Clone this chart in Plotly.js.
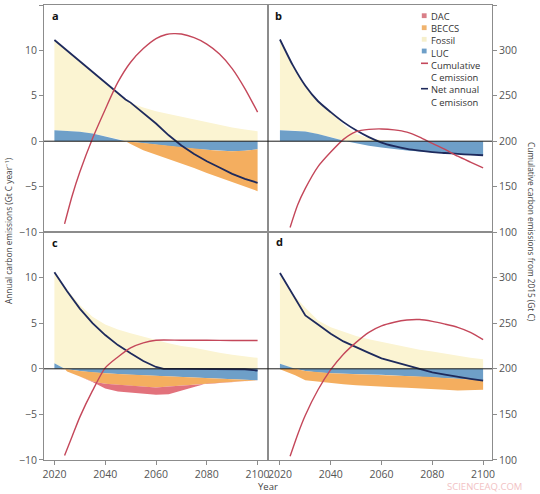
<!DOCTYPE html>
<html><head><meta charset="utf-8">
<script src="https://cdn.plot.ly/plotly-3.0.1.min.js"></script>
<style>html,body{margin:0;padding:0;background:#fff}</style>
</head><body><div id="chart" style="width:540px;height:494px"></div>
<script>
// ---------- Panel a ----------
const yearsA   = [2020,2025,2030,2035,2040,2045,2048,2050,2055,2060,2065,2070,2075,2080,2085,2090,2095,2100];
const fossilA  = [9.9,8.83,7.75,6.75,5.85,5.0,4.6,4.2,3.7,3.3,3.0,2.7,2.35,2.05,1.75,1.5,1.3,1.1];
const lucA     = [1.2,1.15,1.05,0.85,0.55,0.25,0,-0.05,-0.2,-0.35,-0.55,-0.7,-0.85,-0.95,-1.05,-1.1,-1.05,-0.9];
const beccsA   = [0,0,0,0,0,0,0,-0.25,-0.8,-1.15,-1.45,-1.75,-2.1,-2.55,-3.0,-3.45,-3.95,-4.6];
const netYearsA = [2020,2025,2030,2035,2040,2045,2048,2050,2055,2060,2065,2070,2075,2080,2085,2090,2095,2100];
const netA     = [11.15,9.98,8.8,7.6,6.4,5.25,4.6,4.25,3.15,1.95,0.65,-0.48,-1.4,-2.2,-2.9,-3.6,-4.15,-4.58];
const cumYearsA = [2024,2027,2030,2035,2040,2045,2050,2055,2060,2064,2067,2070,2075,2080,2085,2090,2095,2100];
const cumA     = [109,140,166,203,235,265,287,302,313,317.5,318.5,318,314,307,296,280,258,232];

// ---------- Panel b ----------
const yearsB   = [2020,2025,2030,2035,2040,2046,2050,2055,2060,2065,2070,2075,2080,2085,2090,2095,2100];
const fossilB  = [10.0,7.22,5.02,3.6,2.75,1.6,0.8,0.35,0.12,0.04,0,0,0,0,0,0,0];
const lucB     = [1.2,1.18,1.08,0.8,0.45,0,-0.2,-0.5,-0.7,-0.88,-1.02,-1.13,-1.23,-1.32,-1.4,-1.48,-1.55];
const netYearsB = [2020,2025,2030,2035,2040,2045,2050,2055,2060,2065,2070,2075,2080,2085,2090,2095,2100];
const netB     = [11.2,8.4,6.1,4.4,3.2,2.1,1.2,0.45,-0.15,-0.55,-0.85,-1.05,-1.2,-1.3,-1.4,-1.48,-1.55];
const cumYearsB = [2024,2027,2030,2035,2040,2045,2050,2055,2060,2065,2070,2075,2080,2085,2090,2095,2100];
const cumB     = [105,130,148,172,188,202,210.5,213,213.5,212.5,210,204.5,197.5,191,183.5,177,170.7];

// ---------- Panel c ----------
const yearsC   = [2020,2024,2025,2030,2035,2040,2045,2050,2055,2060,2065,2070,2075,2080,2085,2090,2095,2100];
const fossilC  = [9.9,8.95,8.7,7.0,5.7,4.85,4.3,3.9,3.5,3.15,2.8,2.5,2.3,2.0,1.75,1.55,1.35,1.2];
const lucC     = [0.6,0,-0.05,-0.25,-0.4,-0.5,-0.58,-0.65,-0.72,-0.8,-0.87,-0.95,-1.0,-1.05,-1.1,-1.15,-1.2,-1.25];
const beccsC   = [0,0,-0.25,-0.6,-1.0,-1.15,-1.17,-1.2,-1.2,-1.25,-1.08,-0.9,-0.74,-0.57,-0.42,-0.27,-0.13,-0.02];
const dacC     = [0,0,0,0,-0.05,-0.5,-0.75,-0.75,-0.8,-0.8,-0.85,-0.55,-0.26,0,0,0,0,0];
const netYearsC = [2020,2025,2030,2035,2040,2045,2050,2055,2060,2063,2070,2080,2090,2095,2100];
const netC     = [10.6,8.5,6.6,5.0,3.7,2.6,1.7,0.85,0.2,0,0,0,0,-0.05,-0.2];
const cumYearsC = [2024,2027,2030,2035,2040,2045,2050,2055,2060,2070,2080,2090,2100];
const cumC     = [105,126,147,176,201,213,223,228.5,231.3,231.3,231.3,231,231];

// ---------- Panel d ----------
const yearsD   = [2020,2025,2026,2030,2035,2040,2045,2050,2055,2060,2065,2070,2075,2080,2085,2090,2095,2100];
const fossilD  = [9.65,8.2,7.9,6.7,5.3,4.55,4.05,3.6,3.25,2.95,2.65,2.4,2.1,1.9,1.65,1.4,1.2,1.05];
const lucD     = [0.55,0.1,0,-0.25,-0.4,-0.48,-0.55,-0.6,-0.63,-0.66,-0.7,-0.76,-0.82,-0.9,-1.0,-1.08,-1.17,-1.25];
const beccsD   = [-0.05,-0.6,-0.72,-1.0,-1.0,-1.07,-1.15,-1.2,-1.27,-1.31,-1.32,-1.31,-1.3,-1.3,-1.3,-1.3,-1.18,-1.05];
const netYearsD = [2020,2025,2030,2035,2040,2045,2050,2055,2060,2065,2070,2074,2080,2085,2090,2095,2100];
const netD     = [10.5,8.2,5.85,4.85,3.85,3.0,2.35,1.75,1.15,0.75,0.35,0,-0.4,-0.65,-0.9,-1.1,-1.3];
const cumYearsD = [2024,2027,2030,2035,2040,2045,2050,2055,2060,2065,2070,2075,2080,2085,2090,2095,2100];
const cumD     = [104,128,149,177,199,216,229,240,247,251,253.5,254,252,249,245.5,240,232];

// ---------- Axis ticks / labels ----------
const yearTicks = [2020,2040,2060,2080,2100];
const annualTicksTop = [-10,-5,0,5,10,15];
const annualTicksBottom = [-10,-5,0,5,10];
const cumTicksTop = [100,150,200,250,300,350];
const cumTicksBottom = [100,150,200,250,300];
const panelLetters = ['a','b','c','d'];
const legendLabels = ['DAC','BECCS','Fossil','LUC','Cumulative','C emission','Net annual','C emisison'];

const COL = {dac:'#e2727c', beccs:'#f4ae5f', fossil:'#fbf4d2', luc:'#6e9fc8', cum:'#c4475a', net:'#1e2a5c'};
const FONT = 'Open Sans, Liberation Sans, sans-serif';

function band(years, upper, lower, color, xa, ya){
  return {x: years.concat(years.slice().reverse()), y: upper.concat(lower.slice().reverse()),
    type:'scatter', mode:'lines', fill:'toself', fillcolor:color, line:{width:0, color:color},
    hoverinfo:'skip', showlegend:false, xaxis:xa, yaxis:ya};
}
function addPanel(tr, years, fossil, luc, beccs, dac, netYears, net, cumYears, cum, xa, ya, yc, netShape){
  const pos = luc.map(v=>Math.max(v,0));
  const neg = luc.map(v=>Math.min(v,0));
  const zero = luc.map(()=>0);
  const top = pos.map((v,i)=>v+fossil[i]);
  tr.push(band(years, top, pos, COL.fossil, xa, ya));
  tr.push(band(years, pos, zero, COL.luc, xa, ya));
  tr.push(band(years, zero, neg, COL.luc, xa, ya));
  let base = neg;
  if (beccs){ const b2 = base.map((v,i)=>v+beccs[i]); tr.push(band(years, base, b2, COL.beccs, xa, ya)); base = b2; }
  if (dac){ const d2 = base.map((v,i)=>v+dac[i]); tr.push(band(years, base, d2, COL.dac, xa, ya)); base = d2; }
  tr.push({x:cumYears, y:cum, type:'scatter', mode:'lines', line:{color:COL.cum, width:1.4, shape:'spline', smoothing:0.7},
    hoverinfo:'skip', showlegend:false, xaxis:xa, yaxis:yc});
  tr.push({x:netYears, y:net, type:'scatter', mode:'lines', line:{color:COL.net, width:1.8, shape:netShape, smoothing:0.6},
    hoverinfo:'skip', showlegend:false, xaxis:xa, yaxis:ya});
}
const traces = [];
addPanel(traces, yearsA, fossilA, lucA, beccsA, null, netYearsA, netA, cumYearsA, cumA, 'x','y','y5','linear');
addPanel(traces, yearsB, fossilB, lucB, null, null, netYearsB, netB, cumYearsB, cumB, 'x2','y2','y6','spline');
addPanel(traces, yearsC, fossilC, lucC, beccsC, dacC, netYearsC, netC, cumYearsC, cumC, 'x3','y3','y7','linear');
addPanel(traces, yearsD, fossilD, lucD, beccsD, null, netYearsD, netD, cumYearsD, cumD, 'x4','y4','y8','linear');

// ---------- Layout ----------
const Lp=44, Rp=492, Tp=5, Bp=460;
const PX = p => (p-Lp)/(Rp-Lp);
const PY = p => (Bp-p)/(Bp-Tp);
const xRangeL = [2015.9, 2104.1];
const xRangeR = [2015.3, 2103.5];
const annRange = [-10, 15];
const cumRange = [100, 350];
const split = 0.5011;
const frame = {showline:true, linecolor:'#8c8c8c', linewidth:1, mirror:true, showgrid:false, zeroline:false, fixedrange:true};
const tickStyle = {ticks:'outside', ticklen:4, tickwidth:1, tickcolor:'#8c8c8c', tickfont:{family:FONT, size:10.5, color:'#555'}};

const layout = {
  width:540, height:494, autosize:false,
  margin:{l:44, r:48, t:5, b:34, pad:0},
  paper_bgcolor:'#fff', plot_bgcolor:'#fff',
  showlegend:false,
  font:{family:FONT, color:'#444'},
  xaxis:  Object.assign({}, frame, {domain:[0,0.5], anchor:'y', range:xRangeL, showticklabels:false, ticks:''}),
  xaxis2: Object.assign({}, frame, {domain:[0.5,1], anchor:'y2', range:xRangeR, showticklabels:false, ticks:''}),
  xaxis3: Object.assign({}, frame, tickStyle, {domain:[0,0.5], anchor:'y3', range:xRangeL, tickvals:yearTicks}),
  xaxis4: Object.assign({}, frame, tickStyle, {domain:[0.5,1], anchor:'y4', range:xRangeR, tickvals:yearTicks}),
  yaxis:  Object.assign({}, frame, tickStyle, {domain:[split,1], anchor:'x', range:annRange, tickvals:annualTicksTop}),
  yaxis2: Object.assign({}, frame, {domain:[split,1], anchor:'x2', range:annRange, showticklabels:false, ticks:''}),
  yaxis3: Object.assign({}, frame, tickStyle, {domain:[0,split], anchor:'x3', range:annRange, tickvals:annualTicksBottom}),
  yaxis4: Object.assign({}, frame, {domain:[0,split], anchor:'x4', range:annRange, showticklabels:false, ticks:''}),
  yaxis5: {overlaying:'y', anchor:'x', range:cumRange, visible:false, showticklabels:false, fixedrange:true},
  yaxis6: Object.assign({}, tickStyle, {overlaying:'y2', anchor:'x2', side:'right', range:cumRange, tickvals:cumTicksTop, showgrid:false, zeroline:false, showline:false, fixedrange:true}),
  yaxis7: {overlaying:'y3', anchor:'x3', range:cumRange, visible:false, showticklabels:false, fixedrange:true},
  yaxis8: Object.assign({}, tickStyle, {overlaying:'y4', anchor:'x4', side:'right', range:cumRange, tickvals:cumTicksBottom, showgrid:false, zeroline:false, showline:false, fixedrange:true}),
  shapes: [], annotations: []
};

// zero lines drawn above the fills
[['x','y'],['x2','y2'],['x3','y3'],['x4','y4']].forEach(([xa,ya])=>{
  layout.shapes.push({type:'line', xref:xa+' domain', yref:ya, x0:0, x1:1, y0:0, y1:0, line:{color:'#1a1a1a', width:1}, layer:'above'});
});

// panel letters
const letterPos = [[50,15],[273,15],[50,243],[274,242]];
panelLetters.forEach((t,i)=>{
  layout.annotations.push({text:'<b>'+t+'</b>', xref:'paper', yref:'paper', x:PX(letterPos[i][0]), y:PY(letterPos[i][1]),
    xanchor:'left', yanchor:'middle', showarrow:false, font:{family:FONT, size:11, color:'#111'}});
});

// legend (one multi-line text block + glyphs)
const rowY = [15.7,27.7,39.3,51,63.3,76,88.7,101];
layout.annotations.push({text:legendLabels.join('<br>'), xref:'paper', yref:'paper', x:PX(429.5), y:PY(9.2),
  xanchor:'left', yanchor:'top', align:'left', showarrow:false, borderpad:0, font:{family:FONT, size:9.4, color:'#333'}});
const swatch = [COL.dac, COL.beccs, COL.fossil, COL.luc];
const swatchShow = ['#d97f88','#f0b36e','#f6efcc','#6e9fc8'];
swatchShow.forEach((c,i)=>{
  layout.shapes.push({type:'rect', xref:'paper', yref:'paper', x0:PX(421.8), x1:PX(426.6), y0:PY(rowY[i]+2.4), y1:PY(rowY[i]-2.4),
    fillcolor:c, line:{width:0}, layer:'above'});
});
[[4,COL.cum],[6,COL.net]].forEach(([i,c])=>{
  layout.shapes.push({type:'line', xref:'paper', yref:'paper', x0:PX(421), x1:PX(428), y0:PY(rowY[i]), y1:PY(rowY[i]),
    line:{color:c, width:1.6}, layer:'above'});
});

// axis titles
layout.annotations.push({text:'Annual carbon emissions (Gt C year<sup>−1</sup>)', xref:'paper', yref:'paper', x:PX(8), y:PY(231),
  textangle:-90, xanchor:'center', yanchor:'middle', showarrow:false, font:{family:FONT, size:8.3, color:'#444'}});
layout.annotations.push({text:'Cumulative carbon emissions from 2015 (Gt C)', xref:'paper', yref:'paper', x:PX(532), y:PY(232),
  textangle:90, xanchor:'center', yanchor:'middle', showarrow:false, font:{family:FONT, size:8.3, color:'#444'}});
layout.annotations.push({text:'Year', xref:'paper', yref:'paper', x:PX(268), y:PY(494),
  xanchor:'center', yanchor:'bottom', showarrow:false, borderpad:0, font:{family:FONT, size:9.5, color:'#444'}});
layout.annotations.push({text:'SCIENCEAQ.COM', xref:'paper', yref:'paper', x:PX(484), y:PY(494),
  xanchor:'center', yanchor:'bottom', showarrow:false, borderpad:0, font:{family:FONT, size:9.5, color:'#f2c2c4'}});

Plotly.newPlot('chart', traces, layout, {staticPlot:true, displayModeBar:false});
</script></body></html>
